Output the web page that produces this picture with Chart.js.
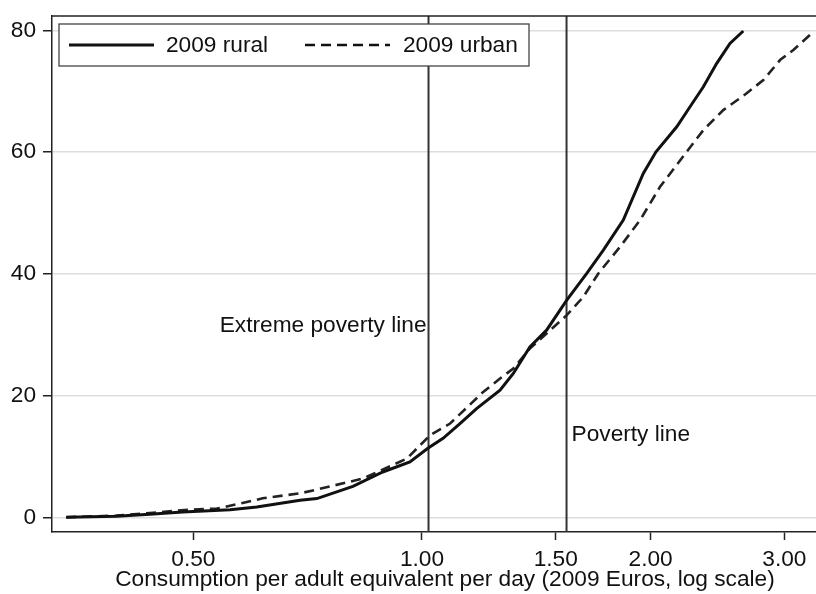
<!DOCTYPE html>
<html>
<head>
<meta charset="utf-8">
<script src="https://cdn.jsdelivr.net/npm/chart.js@4.4.0/dist/chart.umd.min.js"></script>
<style>
  html, body { margin: 0; padding: 0; background: #fff; overflow: hidden; }
  #wrap { width: 816px; height: 594px; overflow: hidden; }
  canvas { display: block; }
</style>
</head>
<body>
<div id="wrap"><canvas id="graficoConsumi" width="840" height="594"></canvas></div>
<script>
// Serie: quota cumulata della popolazione (%) per livello di consumo
const seriesNames = ['2009 rural', '2009 urban'];

const ruralX = [0.34, 0.396, 0.438, 0.484, 0.559, 0.606, 0.691, 0.727, 0.811, 0.888, 0.964, 1.018, 1.066,
    1.122, 1.18, 1.267, 1.319, 1.387, 1.459, 1.551, 1.648, 1.733, 1.841, 1.956, 2.033, 2.165, 2.254,
    2.347, 2.444, 2.544, 2.649];
const ruralY = [0.1, 0.25, 0.57, 0.95, 1.31, 1.77, 2.87, 3.15, 5.17, 7.52, 9.16, 11.41, 13.05,
    15.47, 17.93, 20.94, 23.68, 28.05, 30.79, 35.71, 40.1, 43.92, 48.85, 56.52, 60.07, 64.17, 67.45,
    70.74, 74.58, 77.86, 79.89];

const urbanX = [0.34, 0.396, 0.438, 0.495, 0.537, 0.588, 0.617, 0.691, 0.727, 0.836, 0.955, 1.025, 1.089,
    1.204, 1.267, 1.319, 1.387, 1.459, 1.551, 1.631, 1.707, 1.823, 1.937, 2.058, 2.231, 2.347, 2.493,
    2.676, 2.815, 2.961, 3.083, 3.26];
const urbanY = [0.1, 0.35, 0.79, 1.35, 1.51, 2.59, 3.2, 4.02, 4.63, 6.44, 9.72, 13.55, 15.47,
    20.66, 22.86, 24.5, 27.78, 30.25, 33.25, 36.26, 40.1, 44.47, 48.85, 54.32, 60.07, 63.63, 66.91,
    69.66, 71.84, 75.12, 76.77, 79.51];

const xTicks = [0.5, 1, 1.5, 2, 3];
const yTicks = [0, 20, 40, 60, 80];

// Soglie di povertà e relative etichette
const povertyLines = [1.02, 1.55];
const povertyLabels = ['Extreme poverty line', 'Poverty line'];
const povertyLabelY = [31.6, 13.6];

const xMin = 0.3257, xMax = 3.53;
const yMin = -2.33, yMax = 82.35;

const FONT = 'Liberation Sans, Arial, sans-serif';
const FONT_SIZE = 22.7;
const INK = '#111';

function toPoints(xs, ys) {
    return xs.map((x, i) => ({ x: x, y: ys[i] }));
}

// Linea superiore del riquadro, etichette delle soglie e legenda
const decorazioni = {
    id: 'decorazioni',
    afterDraw(chart) {
        const ctx = chart.ctx;
        const area = chart.chartArea;
        const sx = chart.scales.x;
        const sy = chart.scales.y;
        ctx.save();

        ctx.strokeStyle = '#222';
        ctx.lineWidth = 1.5;
        ctx.beginPath();
        ctx.moveTo(area.left, area.top);
        ctx.lineTo(area.right, area.top);
        ctx.stroke();

        ctx.font = FONT_SIZE + 'px ' + FONT;
        ctx.fillStyle = INK;
        ctx.textBaseline = 'middle';
        povertyLabels.forEach((testo, i) => {
            const px = sx.getPixelForValue(povertyLines[i]);
            const py = sy.getPixelForValue(povertyLabelY[i]);
            if (i === 0) {
                ctx.textAlign = 'right';
                ctx.fillText(testo, px - 2, py);
            } else {
                ctx.textAlign = 'left';
                ctx.fillText(testo, px + 5, py);
            }
        });

        // legenda con riquadro
        const bx = area.left + 7, by = area.top + 8, bw = 470, bh = 42;
        ctx.fillStyle = '#fff';
        ctx.fillRect(bx, by, bw, bh);
        ctx.strokeStyle = '#444';
        ctx.lineWidth = 1.3;
        ctx.strokeRect(bx, by, bw, bh);

        const ly = by + 21;
        const campioni = [
            { x0: bx + 10, dash: [], width: 2.8, tx: bx + 107 },
            { x0: bx + 246, dash: [10, 6], width: 2.5, tx: bx + 344 }
        ];
        campioni.forEach((c, i) => {
            ctx.strokeStyle = INK;
            ctx.lineWidth = c.width;
            ctx.setLineDash(c.dash);
            ctx.beginPath();
            ctx.moveTo(c.x0, ly);
            ctx.lineTo(c.x0 + 85, ly);
            ctx.stroke();
            ctx.setLineDash([]);
            ctx.fillStyle = INK;
            ctx.textAlign = 'left';
            ctx.fillText(seriesNames[i], c.tx, ly + 1);
        });
        ctx.restore();
    }
};

const ctx = document.getElementById('graficoConsumi').getContext('2d');
new Chart(ctx, {
    type: 'line',
    data: {
        datasets: [
            {
                label: seriesNames[0],
                data: toPoints(ruralX, ruralY),
                borderColor: INK,
                borderWidth: 3,
                pointRadius: 0,
                tension: 0,
                fill: false
            },
            {
                label: seriesNames[1],
                data: toPoints(urbanX, urbanY),
                borderColor: '#222',
                borderWidth: 2.6,
                borderDash: [10, 6],
                pointRadius: 0,
                tension: 0,
                fill: false
            },
            ...povertyLines.map(v => ({
                label: 'soglia',
                data: [{ x: v, y: yMin }, { x: v, y: yMax }],
                borderColor: '#333',
                borderWidth: 2,
                pointRadius: 0,
                fill: false
            }))
        ]
    },
    options: {
        responsive: false,
        animation: false,
        devicePixelRatio: 1,
        layout: { padding: { top: 16, right: 2, left: 0, bottom: 0 } },
        plugins: {
            legend: { display: false },
            tooltip: { enabled: false }
        },
        scales: {
            x: {
                type: 'logarithmic',
                bounds: 'data',
                min: xMin,
                max: xMax,
                afterBuildTicks: (scale) => { scale.ticks = xTicks.map(v => ({ value: v })); },
                afterFit: (scale) => {
                    scale.height = 62;
                    scale.paddingLeft = 0;
                    scale.paddingRight = 0;
                },
                ticks: {
                    callback: (v) => Number(v).toFixed(2),
                    font: { family: FONT, size: FONT_SIZE },
                    color: INK,
                    padding: 6,
                    maxRotation: 0,
                    autoSkip: false
                },
                grid: { drawOnChartArea: false, tickLength: 8, tickColor: '#222', tickWidth: 1.5 },
                border: { color: '#222', width: 1.5 },
                title: {
                    display: true,
                    text: 'Consumption per adult equivalent per day (2009 Euros, log scale)',
                    font: { family: FONT, size: FONT_SIZE, lineHeight: 1.2 },
                    color: INK,
                    padding: { top: 0, bottom: 1 }
                }
            },
            y: {
                type: 'linear',
                bounds: 'data',
                min: yMin,
                max: yMax,
                afterBuildTicks: (scale) => { scale.ticks = yTicks.map(v => ({ value: v })); },
                afterFit: (scale) => {
                    scale.width = 52;
                    scale.paddingTop = 0;
                    scale.paddingBottom = 0;
                },
                ticks: {
                    font: { family: FONT, size: FONT_SIZE },
                    color: INK,
                    padding: 7
                },
                grid: { color: '#dedede', lineWidth: 1.5, tickLength: 9, tickColor: '#222', tickWidth: 1.5 },
                border: { color: '#222', width: 1.5 }
            }
        }
    },
    plugins: [decorazioni]
});
</script>
</body>
</html>
